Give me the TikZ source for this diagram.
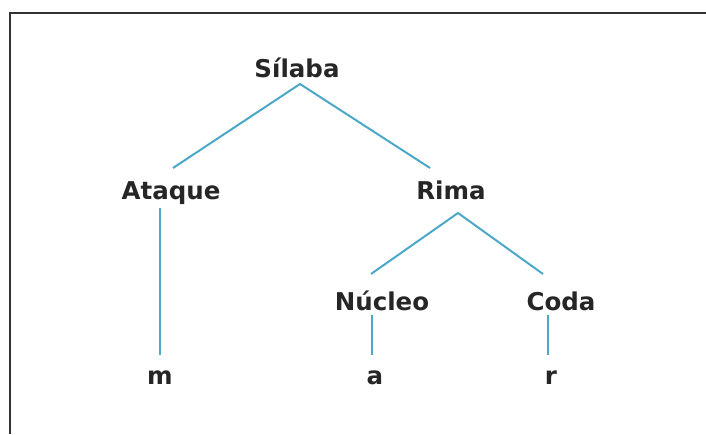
\documentclass[tikz,border=0pt]{standalone}
\usepackage{fontspec}
\setmainfont{DejaVu Sans}
\begin{document}
\begin{tikzpicture}[x=1pt,y=-1pt,
  lbl/.style={anchor=base,inner sep=0pt,font=\bfseries\fontsize{24.5}{29}\selectfont,text=black!85},
  link/.style={line width=2pt,color={rgb,255:red,75;green,168;blue,200}},
  frame/.style={draw=black!80,line width=1.5pt}]
\useasboundingbox (0,0) rectangle (706,434);
\coordinate (ftr) at (706,13);
\coordinate (ftl) at (10,13);
\coordinate (fbl) at (10,434);
\draw[frame] (ftr) -- (ftl) -- (fbl);
\node[lbl] (sil) at (297,77) {Sílaba};
\node[lbl] (ata) at (171,199) {Ataque};
\node[lbl] (rim) at (451,199) {Rima};
\node[lbl] (nuc) at (382,310) {Núcleo};
\node[lbl] (cod) at (561,310) {Coda};
\node[lbl] (m) at (160,384) {m};
\node[lbl] (a) at (375,384) {a};
\node[lbl] (r) at (551,384) {r};
\draw[link] ([shift={(2pt,31pt)}]ata.base) -- ([shift={(3pt,-7pt)}]sil.base) -- ([shift={(-21pt,31pt)}]rim.base);
\draw[link] ([shift={(-11pt,36pt)}]nuc.base) -- ([shift={(7pt,-14pt)}]rim.base) -- ([shift={(-18pt,36pt)}]cod.base);
\draw[link] ([shift={(-11pt,-9pt)}]ata.base) -- ([shift={(0pt,29pt)}]m.base);
\draw[link] ([shift={(-10pt,-5pt)}]nuc.base) -- ([shift={(-3pt,29pt)}]a.base);
\draw[link] ([shift={(-13pt,-5pt)}]cod.base) -- ([shift={(-3pt,29pt)}]r.base);
\end{tikzpicture}
\end{document}
